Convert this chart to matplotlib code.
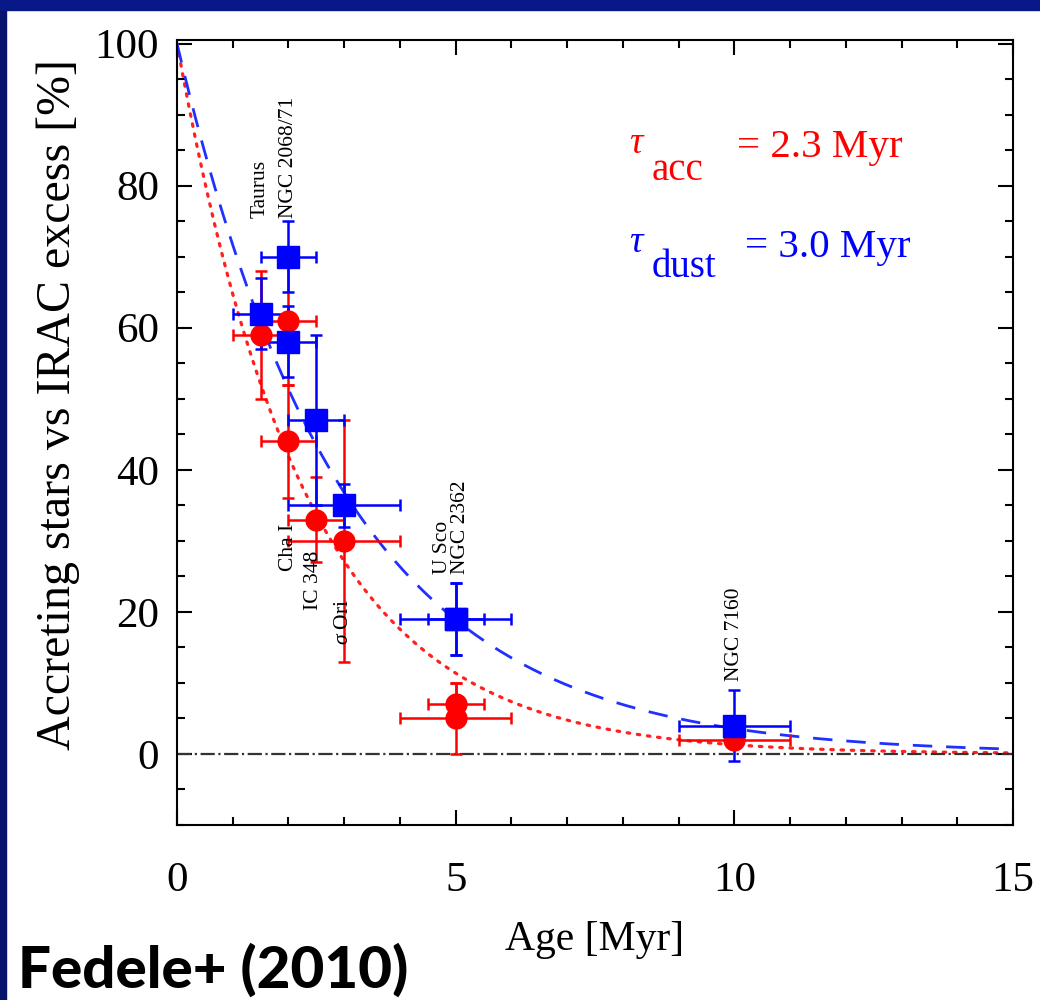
import numpy as np
import matplotlib
matplotlib.use("Agg")
import matplotlib.pyplot as plt
from matplotlib.patches import Rectangle
from matplotlib.ticker import MultipleLocator

# accretion fraction (red circles)
acc_age = [1.5, 2.0, 2.0, 2.5, 3.0, 5.0, 5.0, 10.0]
acc_frac = [59, 61, 44, 33, 30, 7, 5, 2]
acc_xerr = [0.5, 0.5, 0.5, 0.5, 1.0, 0.5, 1.0, 1.0]
acc_yerr = [9, 9, 8, 6, 17, 3, 5, 1]

# IRAC excess fraction (blue squares)
dust_age = [1.5, 2.0, 2.0, 2.5, 3.0, 5.0, 5.0, 10.0]
dust_frac = [62, 70, 58, 47, 35, 19, 19, 4]
dust_xerr = [0.5, 0.5, 0.5, 0.5, 1.0, 0.5, 1.0, 1.0]
dust_yerr = [5, 5, 5, 12, 3, 5, 5, 5]

tau_acc = 2.3
tau_dust = 3.0

# cluster names, where they sit and how they hang
region_names = ["Taurus", "NGC 2068/71", "Cha I", "IC 348", r"$\sigma$ Ori",
                "U Sco", "NGC 2362", "NGC 7160"]
region_x = [1.5, 2.0, 2.0, 2.45, 2.98, 4.76, 5.08, 10.0]
region_y = [75.5, 75.5, 32.4, 28.6, 21.8, 25.3, 25.3, 10.3]
region_va = ["bottom", "bottom", "top", "top", "top", "bottom", "bottom", "bottom"]

plt.rcParams['font.family'] = ['Liberation Serif', 'DejaVu Serif']
plt.rcParams['mathtext.fontset'] = 'custom'
plt.rcParams['mathtext.rm'] = 'Liberation Serif'
plt.rcParams['mathtext.it'] = 'Liberation Serif:italic'

fig = plt.figure(figsize=(10.4, 10), dpi=100)
ax = fig.add_axes([177 / 1040, 175 / 1000, 836 / 1040, 785 / 1000])

# navy frame strips (left and top)
fig.patches.append(Rectangle((0, 0), 6 / 1040, 1, transform=fig.transFigure,
                             color='#06146e', zorder=0))
fig.patches.append(Rectangle((0, 0.99), 1, 0.01, transform=fig.transFigure,
                             color='#081886', zorder=0))

t = np.linspace(0, 15, 400)
ax.plot(t, 100 * np.exp(-t / tau_acc), color='#ff2020', ls=(0, (0.8, 2.4)), lw=2.3,
        dash_capstyle='round')
ax.plot(t, 100 * np.exp(-t / tau_dust), color='#2030ff', ls=(0, (7, 5)), lw=2)
ax.axhline(0, color='#333333', ls='-.', lw=1.6)

ax.errorbar(acc_age, acc_frac, xerr=acc_xerr, yerr=acc_yerr, fmt='o', color='red',
            ms=15, ecolor='red', elinewidth=1.8, capsize=4, capthick=1.8)
ax.errorbar(dust_age, dust_frac, xerr=dust_xerr, yerr=dust_yerr, fmt='s', color='blue',
            ms=15.5, ecolor='blue', elinewidth=1.8, capsize=4, capthick=1.8)

for name, x, y, va in zip(region_names, region_x, region_y, region_va):
    ax.text(x, y, name, rotation=90, ha='center', va=va, fontsize=15.5)

ax.set_xlim(0, 15)
ax.set_ylim(-10, 100.5)
ax.xaxis.set_major_locator(MultipleLocator(5))
ax.xaxis.set_minor_locator(MultipleLocator(1))
ax.yaxis.set_major_locator(MultipleLocator(20))
ax.yaxis.set_minor_locator(MultipleLocator(5))
ax.tick_params(which='both', direction='in', top=True, right=True, width=1.5,
               labelsize=31)
ax.tick_params(which='major', length=11)
ax.tick_params(which='minor', length=6)
ax.tick_params(axis='x', pad=26)
ax.tick_params(axis='y', pad=13)
for sp in ax.spines.values():
    sp.set_linewidth(1.5)

ax.set_xlabel("Age [Myr]", fontsize=30, va='top')
ax.xaxis.set_label_coords(0.5, -0.122)
ax.set_ylabel("Accreting stars vs IRAC excess [%]", fontsize=34.5)
ax.yaxis.set_label_coords(-0.116, 0.535)

# decay time annotations
def px(x, y):
    return x / 1040, 1 - y / 1000

fig.text(*px(629, 153), "τ", color='red', fontsize=27, style='italic', va='baseline')
fig.text(*px(652, 180), "acc", color='red', fontsize=28, va='baseline')
fig.text(*px(737, 157), "= 2.3 Myr", color='red', fontsize=29.5, va='baseline')
fig.text(*px(629, 252), "τ", color='blue', fontsize=27, style='italic', va='baseline')
fig.text(*px(652, 277), "dust", color='blue', fontsize=28, va='baseline')
fig.text(*px(745, 257), "= 3.0 Myr", color='blue', fontsize=29.5, va='baseline')

fig.text(*px(18, 988), "Fedele+ (2010)", fontsize=42, fontweight='black',
         family=['Lato', 'DejaVu Sans'], va='baseline')

fig.savefig("out.png", dpi=100, facecolor='white')
